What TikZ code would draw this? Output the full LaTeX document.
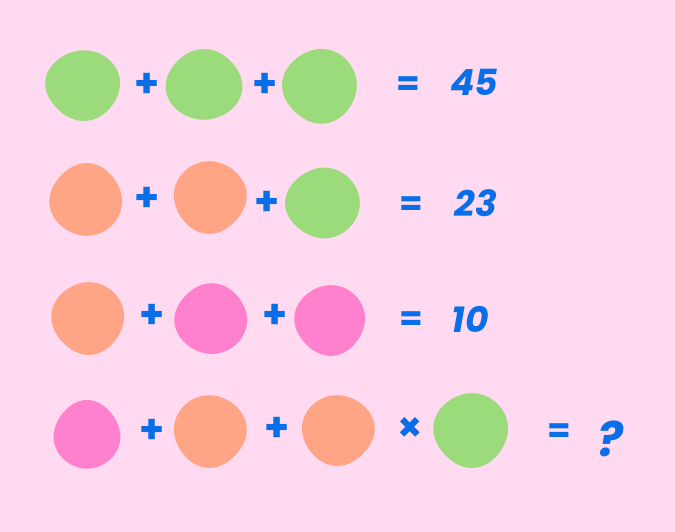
\documentclass[tikz,border=0pt]{standalone}
\usepackage{fontspec}
\setmainfont{Poppins}
\definecolor{bgpink}{RGB}{255,218,241}
\definecolor{bgreen}{RGB}{155,219,123}
\definecolor{borange}{RGB}{255,165,133}
\definecolor{bpink}{RGB}{255,128,204}
\definecolor{ink}{RGB}{10,110,232}
% \myblob{color}{cx}{cy}{rx}{ry}{amp}{phase}
\newcommand{\myblob}[7]{%
  \fill[#1] plot[smooth cycle, domain=0:350, samples=36, variable=\t]
    ({#2+#4*(1+#6*cos(3*(\t-#7))+0.01*cos(4*\t))*cos(\t)},{#3+#5*(1+#6*cos(3*(\t-#7))+0.01*cos(4*\t))*sin(\t)});}
\tikzset{
  op/.style={text=ink, font=\bfseries\fontsize{40}{40}\selectfont, inner sep=0pt},
  eqs/.style={text=ink, font=\bfseries\fontsize{34}{34}\selectfont, inner sep=0pt},
  res/.style={text=ink, font=\bfseries\itshape\fontsize{36}{36}\selectfont, inner sep=0pt, anchor=center},
}
\begin{document}
\begin{tikzpicture}[x=1pt,y=-1pt]
\fill[bgpink] (0,0) rectangle (675,532);
\useasboundingbox (0,0) rectangle (675,532);
% row 1
\myblob{bgreen}{83}{85}{37}{35}{0.02}{200}
\myblob{bgreen}{204}{85}{38}{35}{0.018}{150}
\myblob{bgreen}{320}{86}{37}{37}{0.018}{190}
\node[op] (p11) at (147,85) {+};
\node[op] (p12) at (265,85) {+};
\node[eqs] (e1) at (408,86) {=};
\node[res] (r1) at (474,82) {45};
% row 2
\myblob{borange}{86}{200}{36}{36}{0.018}{160}
\myblob{borange}{210}{197}{36}{36}{0.018}{220}
\myblob{bgreen}{323}{203}{37}{35}{0.015}{180}
\node[op] (p21) at (147,199) {+};
\node[op] (p22) at (267,203) {+};
\node[eqs] (e2) at (411,206) {=};
\node[res] (r2) at (476,203) {23};
% row 3
\myblob{borange}{88}{318}{36}{36}{0.018}{200}
\myblob{bpink}{211}{319}{36}{35}{0.015}{160}
\myblob{bpink}{330}{320}{35}{35}{0.018}{200}
\node[op] (p31) at (152,316) {+};
\node[op] (p32) at (275,316) {+};
\node[eqs] (e3) at (411,321) {=};
\node[res] (r3) at (470,319) {10};
% row 4
\myblob{bpink}{87}{435}{33}{34}{0.02}{150}
\myblob{borange}{210}{431}{36}{36}{0.018}{220}
\myblob{borange}{338}{430}{36}{35}{0.018}{220}
\myblob{bgreen}{471}{430}{37}{37}{0.018}{200}
\node[op] (p41) at (152,431) {+};
\node[op] (p42) at (277,429) {+};
\node[op] (m4) at (410,429) {×};
\node[eqs] (e4) at (559,433) {=};
\node[res, font=\bfseries\itshape\fontsize{48}{48}\selectfont] (r4) at (610,439) {?};
\end{tikzpicture}
\end{document}
